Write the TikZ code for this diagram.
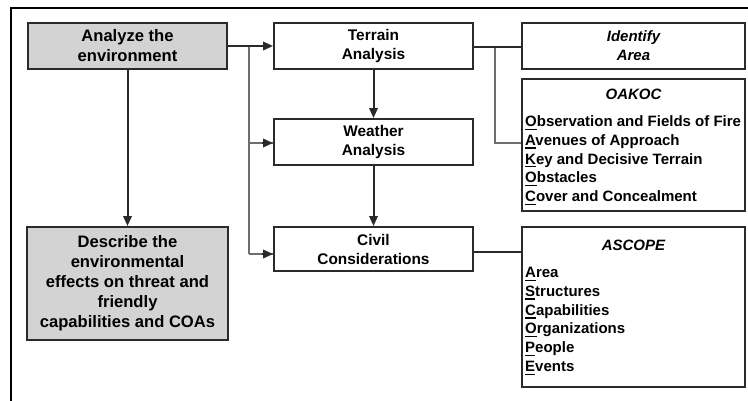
\documentclass[tikz,border=0pt]{standalone}
\usepackage{fontspec}
\setmainfont{Liberation Sans}
\usetikzlibrary{arrows.meta}
\definecolor{boxgray}{HTML}{D3D3D3}
\definecolor{edgec}{HTML}{2A2A2A}
\definecolor{branchc}{HTML}{6E6E6E}
\newcommand\firstul[1]{\setbox0\hbox{#1}\rlap{\rule[-3.4pt]{\wd0}{1.3pt}}#1}
\tikzset{
  box/.style={draw=edgec, line width=2pt, inner sep=0pt, align=center},
  graybox/.style={box, fill=boxgray},
  lefttext/.style={font=\bfseries\fontsize{16.6}{20}\selectfont},
  midtext/.style={font=\bfseries\fontsize{15.4}{19}\selectfont},
  righttext/.style={font=\bfseries\fontsize{15}{19}\selectfont},
  listline/.style={righttext, inner sep=0pt, anchor=base west},
  mainline/.style={draw=edgec, line width=2pt},
  branchline/.style={draw=branchc, line width=1.6pt},
  tip/.style={-{Triangle[length=10pt,width=8.5pt]}},
}
\begin{document}
\begin{tikzpicture}[x=1pt,y=-1pt]
\useasboundingbox (0,0) rectangle (748,400);
% outer frame (only left and top edges visible)
\draw[line width=2.6pt, black] (11,401) -- (11,8) -- (749,8);

% left column
\node[graybox, lefttext, minimum width=199pt, minimum height=46pt] (analyze) at (127.5,46) {Analyze the\\environment};
\node[graybox, lefttext, minimum width=201pt, minimum height=113pt] (describe) at (127.5,283.5) {Describe the\\environmental\\effects on threat and\\friendly\\capabilities and COAs};

% middle column
\node[box, midtext, minimum width=199pt, minimum height=46pt] (terrain) at (373.5,46) {Terrain\\Analysis};
\node[box, midtext, minimum width=199pt, minimum height=46pt] (weather) at (373.5,142) {Weather\\Analysis};
\node[box, midtext, minimum width=199pt, minimum height=44pt] (civil) at (373.5,249) {Civil\\Considerations};

% right column
\node[box, righttext, minimum width=223pt, minimum height=46pt] (identify) at (633.5,46) {\itshape Identify\\\itshape Area};
\node[box, minimum width=223pt, minimum height=132pt] (oakoc) at (633.5,145) {};
\node[box, minimum width=223pt, minimum height=160pt] (ascope) at (633.5,307) {};

\node[righttext, inner sep=0pt] (oakoct) at (633.5,94) {\itshape OAKOC};
\foreach \t [count=\i] in {{\firstul{O}bservation and Fields of Fire},{\firstul{A}venues of Approach},{\firstul{K}ey and Decisive Terrain},{\firstul{O}bstacles},{\firstul{C}over and Concealment}}
  \node[listline] (oak\i) at (525,{126.5+18.75*(\i-1)}) {\t};

\node[righttext, inner sep=0pt] (ascopet) at (633.5,245) {\itshape ASCOPE};
\foreach \t [count=\i] in {{\firstul{A}rea},{\firstul{S}tructures},{\firstul{C}apabilities},{\firstul{O}rganizations},{\firstul{P}eople},{\firstul{E}vents}}
  \node[listline] (asc\i) at (525,{277.5+18.8*(\i-1)}) {\t};

% connectors
\coordinate (b1) at (249,46);
\coordinate (b2) at (249,143);
\coordinate (b3) at (249,254);
\draw[branchline] (b1) -- (b3);
\draw[branchline] (b2) -- (weather.west |- b2);
\draw[branchline] (b3) -- (civil.west |- b3);
\draw[mainline, tip] (analyze.east) -- (terrain.west);
\draw[mainline, tip] ([xshift=-11pt]weather.west |- b2) -- (weather.west |- b2);
\draw[mainline, tip] ([xshift=-11pt]civil.west |- b3) -- (civil.west |- b3);
\draw[mainline, tip] (terrain.south) -- (weather.north);
\draw[mainline, tip] (weather.south) -- (civil.north);
\draw[mainline, tip] (analyze.south) -- (describe.north);

\coordinate (r1) at (495,47);
\coordinate (r2) at (495,143);
\coordinate (r3) at (522,252);
\draw[branchline] (r1) -- (r2) -- (oakoc.west |- r2);
\draw[mainline] (terrain.east |- r1) -- (identify.west |- r1);
\draw[mainline] (civil.east |- r3) -- (ascope.west |- r3);
\end{tikzpicture}
\end{document}
